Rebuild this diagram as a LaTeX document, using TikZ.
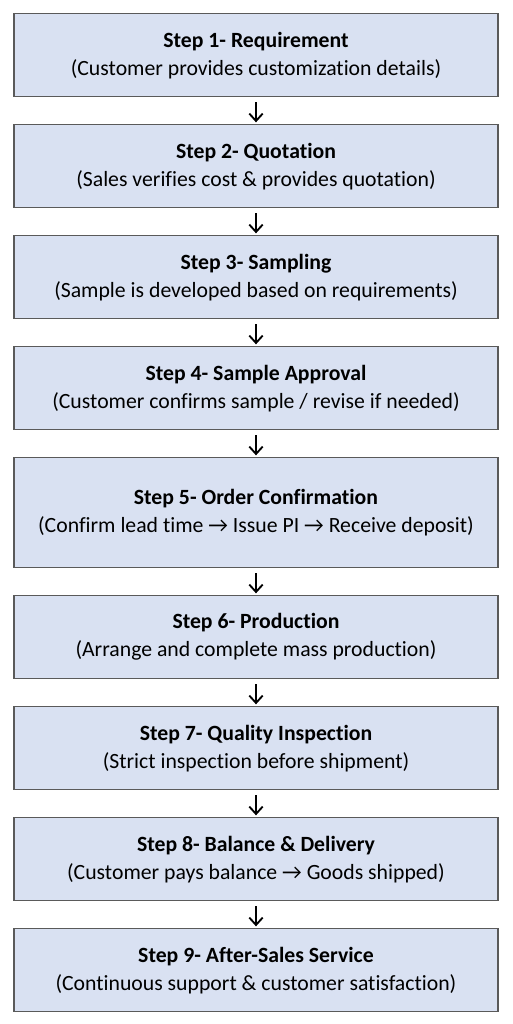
\documentclass[tikz,border=0pt]{standalone}
\usepackage{fontspec}
\setmainfont[Ligatures=NoCommon]{Carlito}
\usepackage{tikz}
\usetikzlibrary{positioning,arrows.meta}
\definecolor{boxfill}{HTML}{D9E1F2}
\definecolor{boxline}{HTML}{5A5A5A}
\tikzset{
  stepbox/.style={draw=boxline,line width=0.9pt,fill=boxfill,minimum width=363pt,minimum height=62.25pt,
    align=center,inner sep=0pt,outer sep=0pt,font=\fontsize{16.3}{21}\selectfont},
  flow/.style={-{Straight Barb[length=5.5pt,width=10pt]},line width=1.4pt,shorten <=4pt,shorten >=1.8pt}
}
\newcommand{\stepname}[2]{\textbf{#1}\\#2}
\begin{document}
\begin{tikzpicture}[node distance=21pt]
\useasboundingbox (0,0) rectangle (384pt,-768pt);
\node[stepbox,anchor=north west] (s1) at (10.5pt,-10.3pt) {\stepname{Step 1- Requirement}{(Customer provides customization details)}};
\node[stepbox,below=of s1] (s2) {\stepname{Step 2- Quotation}{(Sales verifies cost \& provides quotation)}};
\node[stepbox,below=of s2] (s3) {\stepname{Step 3- Sampling}{(Sample is developed based on requirements)}};
\node[stepbox,below=of s3] (s4) {\stepname{Step 4- Sample Approval}{(Customer confirms sample / revise if needed)}};
\node[stepbox,below=of s4,minimum height=82.5pt] (s5) {\stepname{Step 5- Order Confirmation}{(Confirm lead time \char"2192{} Issue PI \char"2192{} Receive deposit)}};
\node[stepbox,below=of s5] (s6) {\stepname{Step 6- Production}{(Arrange and complete mass production)}};
\node[stepbox,below=of s6] (s7) {\stepname{Step 7- Quality Inspection}{(Strict inspection before shipment)}};
\node[stepbox,below=of s7] (s8) {\stepname{Step 8- Balance \& Delivery}{(Customer pays balance \char"2192{} Goods shipped)}};
\node[stepbox,below=of s8] (s9) {\stepname{Step 9- After-Sales Service}{(Continuous support \& customer satisfaction)}};
% arrows between the steps
\foreach \a/\b in {s1/s2,s2/s3,s3/s4,s4/s5,s5/s6,s6/s7,s7/s8,s8/s9}
  \draw[flow] (\a.south) -- (\b.north);
\end{tikzpicture}
\end{document}
